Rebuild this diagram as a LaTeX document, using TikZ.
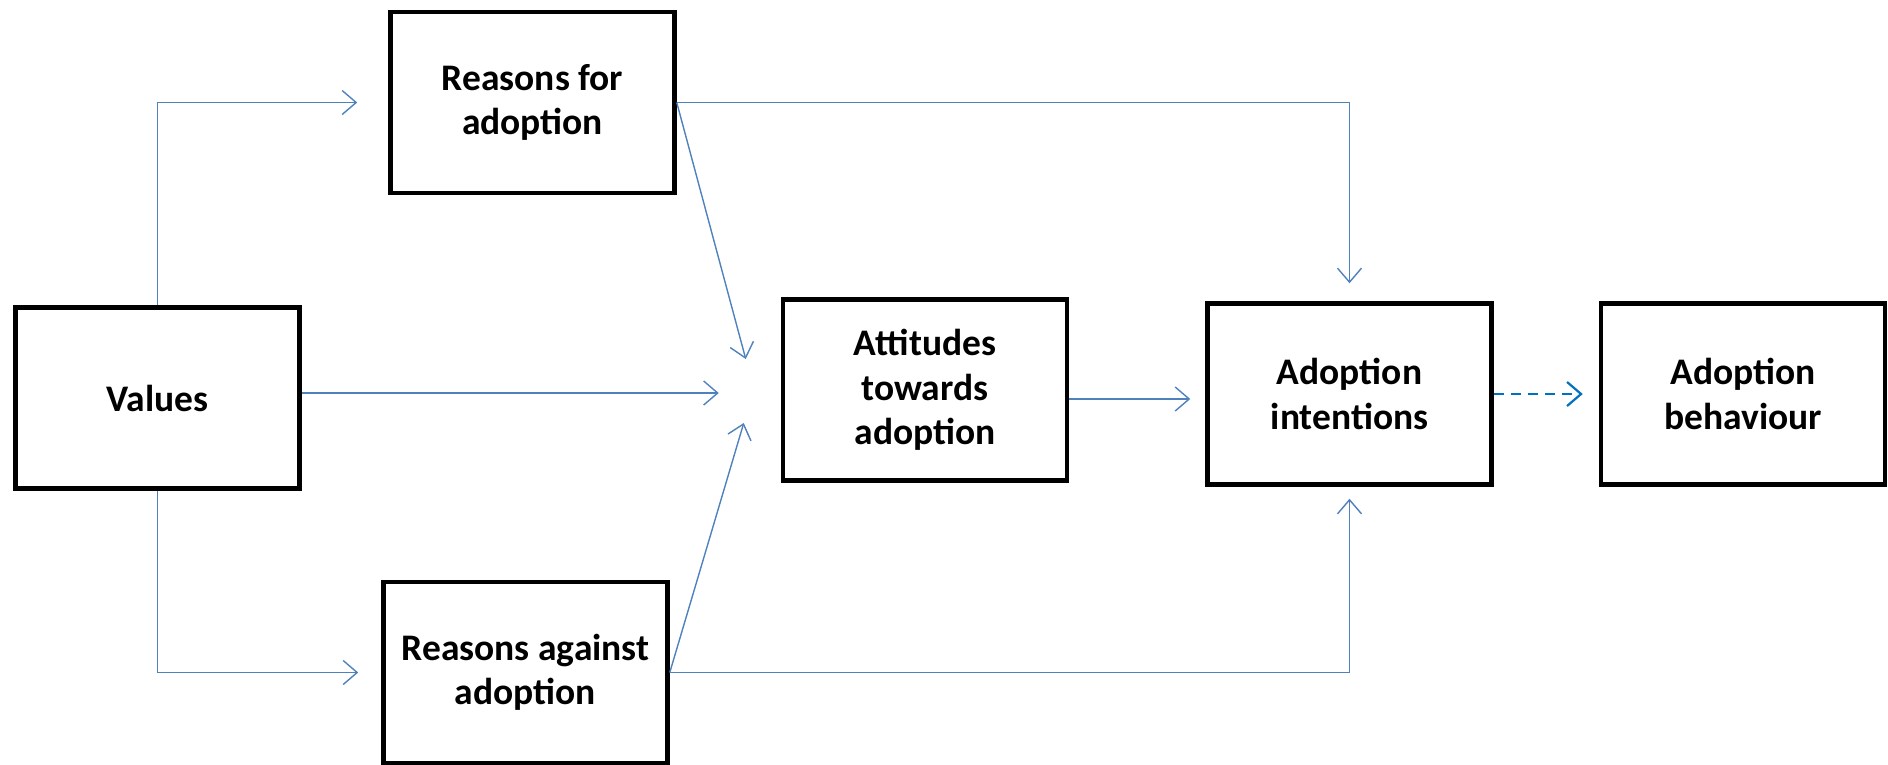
\documentclass[tikz,border=0pt]{standalone}
\usepackage{fontspec}
\setmainfont{Carlito}
\usetikzlibrary{arrows.meta}
\definecolor{conn}{HTML}{4F81BD}
\definecolor{dashc}{HTML}{0070C0}
\tikzset{
  box/.style={draw=black, line width=4.5pt, rectangle, align=center,
    minimum width=284pt, minimum height=181pt, inner sep=0pt,
    font=\fontsize{37.5pt}{44.5pt}\selectfont\bfseries},
  conn/.style={draw=conn, line width=1.4pt, -{Straight Barb[length=14pt,width=24pt,line width=1.4pt]}},
  dconn/.style={draw=dashc, line width=2.8pt, dash pattern=on 10pt off 7pt, -{Straight Barb[length=14pt,width=24pt,line width=2.2pt]}}
}
\begin{document}
\begin{tikzpicture}[x=1pt,y=-1pt]
\useasboundingbox (0,0) rectangle (1888,764);
\begin{scope}
\clip (0,0) rectangle (1888,764);
\node[box] (values) at (157.5,398) {Values};
\node[box] (rfor) at (532.5,102.5) {Reasons for\\adoption};
\node[box] (ragainst) at (525.5,672.5) {Reasons against\\adoption};
\node[box] (att) at (925,390) {Attitudes\\towards\\adoption};
\node[box] (int) at (1349.5,394) {Adoption\\intentions};
\node[box] (beh) at (1743,394) {Adoption\\behaviour};
\end{scope}

\coordinate (tfor) at ([shift={(-31,0)}]rfor.west);
\coordinate (tagainst) at ([shift={(-23,0)}]ragainst.west);
\coordinate (tdiag1) at ([shift={(-35,-31)}]att.west);
\coordinate (tval) at ([shift={(-62,3)}]att.west);
\coordinate (tdiag2) at ([shift={(-37,33)}]att.west);
\coordinate (tintop) at ([shift={(0,-18)}]int.north);
\coordinate (tintbot) at ([shift={(0,12)}]int.south);
\coordinate (tatt) at ([shift={(-15,5)}]int.west);

\draw[conn] (values.north) |- (tfor);
\draw[conn] (values.south) |- (tagainst);
\draw[conn] (values.east |- tval) -- (tval);
\draw[conn] (rfor.east) -- (tdiag1);
\draw[conn] (ragainst.east) -- (tdiag2);
\draw[conn] (rfor.east) -| (tintop);
\draw[conn] (ragainst.east) -| (tintbot);
\draw[conn] (att.east |- tatt) -- (tatt);
\draw[dconn] (int.east) -- ([shift={(-16,0)}]beh.west);
\end{tikzpicture}
\end{document}
